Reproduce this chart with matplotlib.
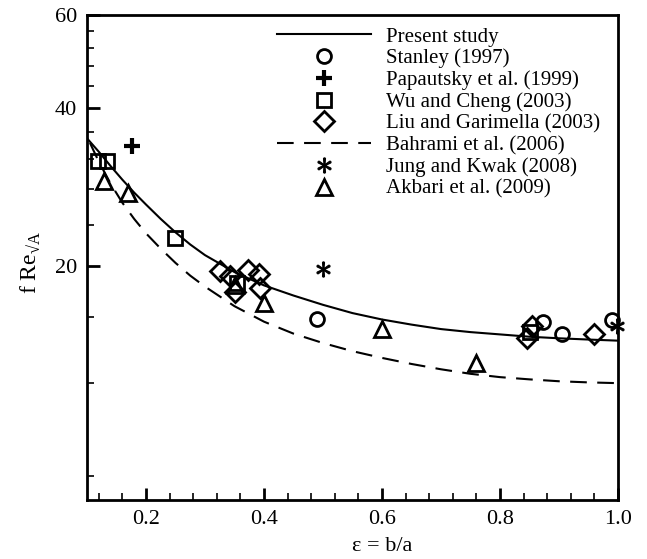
import matplotlib
matplotlib.use("Agg")
import matplotlib.pyplot as plt
import matplotlib.ticker as ticker

plt.rcParams['font.family'] = ['Liberation Serif', 'DejaVu Serif']
plt.rcParams['mathtext.fontset'] = 'custom'
plt.rcParams['mathtext.rm'] = 'Liberation Serif'

# Present study (solid curve)
present_x = [0.10, 0.12, 0.14, 0.16, 0.18, 0.20, 0.225, 0.25, 0.275, 0.30, 0.35, 0.40,
             0.45, 0.50, 0.55, 0.60, 0.65, 0.70, 0.75, 0.80, 0.85, 0.90, 0.95, 1.00]
present_y = [35.0, 33.0, 31.0, 29.2, 27.6, 26.2, 24.6, 23.2, 22.0, 21.0, 19.5, 18.4,
             17.6, 16.9, 16.3, 15.85, 15.5, 15.2, 15.0, 14.85, 14.7, 14.6, 14.52, 14.45]

# Bahrami et al. (2006) (dashed curve)
bahrami_x = [0.105, 0.12, 0.14, 0.16, 0.18, 0.20, 0.225, 0.25, 0.275, 0.30, 0.35, 0.40,
             0.45, 0.50, 0.55, 0.60, 0.65, 0.70, 0.75, 0.80, 0.85, 0.90, 0.95, 1.00]
bahrami_y = [34.3, 31.6, 28.7, 26.4, 24.6, 23.1, 21.6, 20.3, 19.2, 18.3, 16.8, 15.7,
             14.9, 14.3, 13.8, 13.4, 13.05, 12.75, 12.5, 12.32, 12.2, 12.1, 12.04, 12.0]

stanley_x = [0.49, 0.873, 0.905, 0.99]
stanley_y = [15.9, 15.7, 14.9, 15.8]

papautsky_x = [0.176]
papautsky_y = [33.9]

wu_x = [0.119, 0.134, 0.249, 0.354, 0.85]
wu_y = [31.7, 31.7, 22.6, 18.6, 15.0]

liu_x = [0.325, 0.342, 0.373, 0.392, 0.351, 0.393, 0.845, 0.855, 0.96]
liu_y = [19.6, 19.2, 19.7, 19.3, 17.9, 18.2, 14.6, 15.4, 14.9]

jung_x = [0.50, 0.998]
jung_y = [19.8, 15.4]

akbari_x = [0.129, 0.169, 0.351, 0.40, 0.60, 0.76]
akbari_y = [29.1, 27.5, 18.4, 17.0, 15.2, 13.1]

fig = plt.figure(figsize=(6.47, 5.59), dpi=100)
ax = fig.add_axes([87 / 647, 1 - 500 / 559, (618 - 87) / 647, (500 - 15) / 559])

mk = dict(color='k', mfc='none', mew=2, ls='none', clip_on=False)

ax.plot(present_x, present_y, 'k-', lw=1.5, label='Present study')
ax.plot(stanley_x, stanley_y, marker='o', ms=10, label='Stanley (1997)', **mk)
ax.plot(papautsky_x, papautsky_y, marker='+', ms=11, label='Papautsky et al. (1999)',
        color='k', mew=3, ls='none')
ax.plot(wu_x, wu_y, marker='s', ms=9.5, label='Wu and Cheng (2003)', **mk)
ax.plot(liu_x, liu_y, marker='D', ms=10, label='Liu and Garimella (2003)', **mk)
ax.plot(bahrami_x, bahrami_y, 'k', lw=1.5, dashes=(8, 5), label='Bahrami et al. (2006)')
ax.plot(jung_x, jung_y, marker=r'$\ast$', ms=11, color='k', mew=0.8, ls='none',
        clip_on=False, label='Jung and Kwak (2008)')
ax.plot(akbari_x, akbari_y, marker='^', ms=11, label='Akbari et al. (2009)', **mk)

ax.set_yscale('log')
ax.set_xlim(0.1, 1.0)
ax.set_ylim(7.2, 60)

ax.yaxis.set_major_locator(ticker.FixedLocator([20, 40, 60]))
ax.yaxis.set_major_formatter(ticker.FormatStrFormatter('%d'))
ax.yaxis.set_minor_locator(ticker.FixedLocator([8, 12, 16, 24, 28, 32, 36, 44, 48, 52, 56]))
ax.yaxis.set_minor_formatter(ticker.NullFormatter())
ax.xaxis.set_major_locator(ticker.MultipleLocator(0.2))
ax.xaxis.set_major_formatter(ticker.FormatStrFormatter('%.1f'))
ax.xaxis.set_minor_locator(ticker.MultipleLocator(0.04))

ax.tick_params(which='both', direction='in', top=False, right=False, labelsize=16)
ax.tick_params(which='major', length=9, width=2, pad=7)
ax.tick_params(which='minor', length=5, width=1.2)
for s in ax.spines.values():
    s.set_linewidth(2)

ax.set_xlabel('ε = b/a', fontsize=16)
ax.xaxis.set_label_coords(0.556, -0.077)
ax.set_ylabel(r'f Re$_{\mathregular{√A}}$', fontsize=17)
ax.yaxis.set_label_coords(-0.082, 0.49)

ax.legend(loc='upper left', bbox_to_anchor=(277 / 647, 1 - 27 / 559),
          bbox_transform=fig.transFigure, frameon=False, numpoints=1,
          handlelength=4.5, handletextpad=0.72, labelspacing=0.1,
          borderpad=0, borderaxespad=0, fontsize=15)

plt.savefig('out.png', dpi=100)
